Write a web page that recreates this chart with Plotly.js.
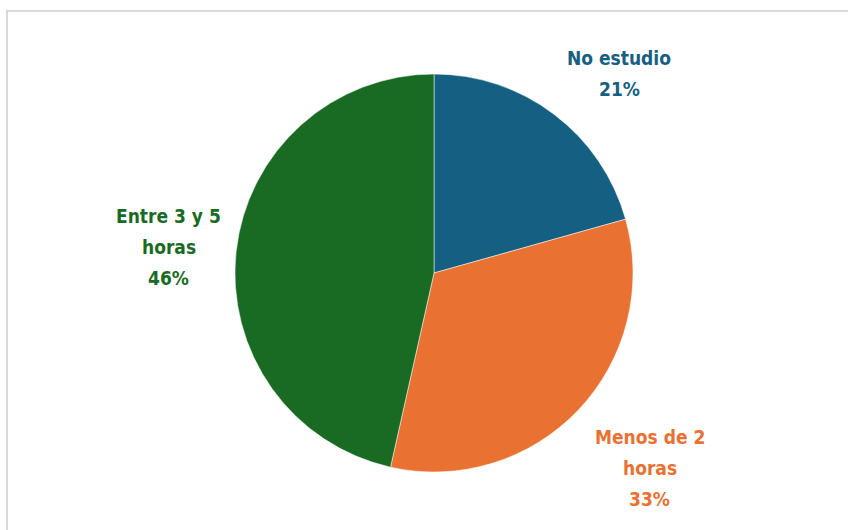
<!DOCTYPE html>
<html>
<head>
<meta charset="utf-8">
<script src="https://cdn.plot.ly/plotly-3.0.1.min.js"></script>
<style>
  html, body { margin: 0; padding: 0; background: #ffffff; }
  #chart { width: 848px; height: 530px; }
</style>
</head>
<body>
<div id="chart"></div>
<script>
// Data
var categories = ["No estudio", "Menos de 2 horas", "Entre 3 y 5 horas"];
var labelLines = [["No estudio"], ["Menos de 2", "horas"], ["Entre 3 y 5", "horas"]];
var values = [20.6, 32.8, 46.4];
var colors = ["#156082", "#E97132", "#196B24"];

// Layout geometry (pixels)
var W = 848, H = 530;
var cx = 434, cy = 273, R = 199;
var labelRadius = [1.37, 1.46, 1.34];   // label distance / radius, per slice
var labelTurn = [5.7, -1.4, -0.7];       // degrees added to slice mid-angle
var fontFamily = "'Liberation Sans Narrow', 'DejaVu Sans Condensed', 'Liberation Sans', sans-serif";
var fontSize = 19;
var lineGap = 31;

var total = values.reduce(function (a, b) { return a + b; }, 0);

var annotations = [];
var cum = 0;
for (var i = 0; i < values.length; i++) {
  var mid = ((cum + values[i] / 2) / total * 360 + labelTurn[i]) * Math.PI / 180;
  cum += values[i];
  var px = cx + R * labelRadius[i] * Math.sin(mid);
  var py = cy - R * labelRadius[i] * Math.cos(mid);
  var pct = Math.round(values[i] / total * 100) + "%";
  var lines = labelLines[i].concat([pct]);
  for (var j = 0; j < lines.length; j++) {
    var off = (j - (lines.length - 1) / 2) * lineGap;
    annotations.push({
      xref: "paper", yref: "paper",
      x: px / W, y: 1 - (py + off) / H,
      xanchor: "center", yanchor: "middle",
      text: "<b>" + lines[j] + "</b>",
      showarrow: false,
      font: { family: fontFamily, size: fontSize, color: colors[i] }
    });
  }
}

var trace = {
  type: "pie",
  labels: categories,
  values: values,
  sort: false,
  direction: "clockwise",
  rotation: 0,
  textinfo: "none",
  hoverinfo: "label+percent",
  marker: { colors: colors, line: { color: "#ffffff", width: 0.5 } },
  domain: { x: [(cx - R) / W, (cx + R) / W], y: [1 - (cy + R) / H, 1 - (cy - R) / H] },
  showlegend: false
};

var layout = {
  width: W, height: H,
  margin: { l: 0, r: 0, t: 0, b: 0 },
  paper_bgcolor: "#ffffff",
  showlegend: false,
  annotations: annotations,
  shapes: [{
    type: "rect", xref: "paper", yref: "paper",
    x0: 7 / W, x1: 1.02, y0: -0.02, y1: 1 - 11 / H,
    line: { color: "#d9d9d9", width: 2 },
    fillcolor: "rgba(0,0,0,0)", layer: "below"
  }]
};

Plotly.newPlot("chart", [trace], layout, { displayModeBar: false, staticPlot: true });
</script>
</body>
</html>
